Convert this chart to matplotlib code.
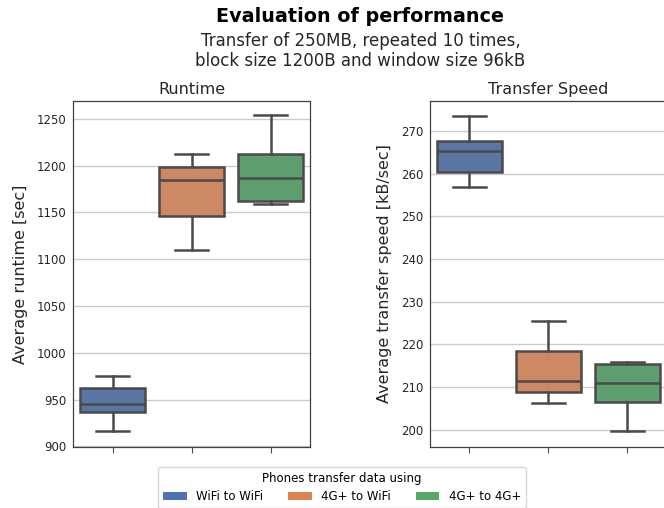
import matplotlib
matplotlib.use("Agg")
import matplotlib.pyplot as plt
from matplotlib.patches import Patch
import seaborn as sns

# values: lower whisker, q1, median, q3, upper whisker
groups = ["WiFi to WiFi", "4G+ to WiFi", "4G+ to 4G+"]

runtime_whislo = [916.0, 1109.6, 1159.1]
runtime_q1 = [936.4, 1145.6, 1162.3]
runtime_med = [945.3, 1184.8, 1186.2]
runtime_q3 = [962.5, 1198.0, 1212.2]
runtime_whishi = [975.6, 1212.6, 1253.6]

speed_whislo = [256.8, 206.3, 199.6]
speed_q1 = [260.4, 208.8, 206.4]
speed_med = [265.2, 211.3, 210.9]
speed_q3 = [267.7, 218.5, 215.4]
speed_whishi = [273.5, 225.5, 215.8]

palette = sns.color_palette("deep", 3)
box_colors = [sns.desaturate(c, 0.75) for c in palette]
line_col = "#4a4a4a"

plt.rcParams['font.family'] = ['DejaVu Sans']


def make_stats(lo, q1, med, q3, hi):
    stats = []
    for i in range(len(lo)):
        stats.append(dict(whislo=lo[i], q1=q1[i], med=med[i], q3=q3[i],
                          whishi=hi[i], fliers=[]))
    return stats


def draw_box(ax, stats, title, ylabel):
    bp = ax.bxp(stats, positions=range(len(stats)), widths=0.83,
                capwidths=0.42, patch_artist=True, showfliers=False,
                boxprops=dict(linewidth=1.8, edgecolor=line_col),
                medianprops=dict(linewidth=1.8, color=line_col),
                whiskerprops=dict(linewidth=1.8, color=line_col),
                capprops=dict(linewidth=1.8, color=line_col))
    for patch, c in zip(bp['boxes'], box_colors):
        patch.set_facecolor(c)
    ax.set_xlim(-0.5, len(stats) - 0.5)
    ax.set_xticks(range(len(stats)))
    ax.set_xticklabels([])
    ax.tick_params(axis='x', length=4, color='0.3')
    ax.tick_params(axis='y', length=0, labelsize=8.5, labelcolor='#262626', pad=5)
    ax.yaxis.grid(True, color='#cccccc', linewidth=1)
    ax.set_axisbelow(True)
    for s in ax.spines.values():
        s.set_color('0.25')
        s.set_linewidth(0.9)
    ax.set_title(title, fontsize=11.5, color='#262626', pad=5)
    ax.set_ylabel(ylabel, fontsize=11.5, color='#262626', labelpad=6)


fig = plt.figure(figsize=(6.64, 5.08), dpi=100)
ax1 = fig.add_axes([73 / 664, 1 - 447 / 508, 237 / 664, 346 / 508])
ax2 = fig.add_axes([430 / 664, 1 - 447 / 508, 237 / 664, 346 / 508])

draw_box(ax1, make_stats(runtime_whislo, runtime_q1, runtime_med, runtime_q3, runtime_whishi),
         "Runtime", "Average runtime [sec]")
draw_box(ax2, make_stats(speed_whislo, speed_q1, speed_med, speed_q3, speed_whishi),
         "Transfer Speed", "Average transfer speed [kB/sec]")
ax1.set_ylim(899.3, 1269)
ax2.set_ylim(195.9, 277.0)

fig.text(0.542, 1 - 17 / 508, "Evaluation of performance", ha='center', va='center',
         fontsize=13.8, fontweight='bold')
fig.text(0.543, 1 - 51 / 508, "Transfer of 250MB, repeated 10 times,\nblock size 1200B and window size 96kB",
         ha='center', va='center', fontsize=12, color='#262626', linespacing=1.08)

handles = [Patch(facecolor=c, label=g) for c, g in zip(palette, groups)]
fig.legend(handles=handles, title="Phones transfer data using", ncol=3,
           loc='lower center', bbox_to_anchor=(342 / 664, -0.012), fontsize=8.5,
           title_fontsize=8.5, frameon=True, edgecolor='#d0d0d0',
           handlelength=2.0, columnspacing=2.1, borderpad=0.4)

fig.savefig("out.png", dpi=100)
